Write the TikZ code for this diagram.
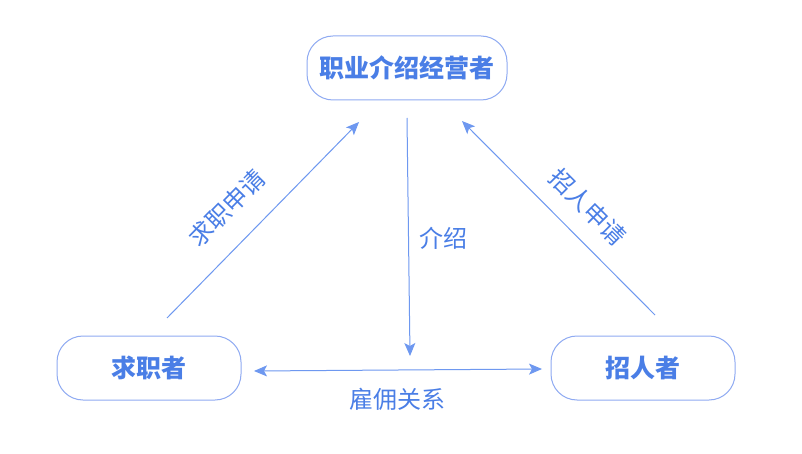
\documentclass[tikz,border=0pt]{standalone}
\usepackage{fontspec}
\setmainfont{Noto Sans CJK SC}
\usetikzlibrary{arrows.meta}
\definecolor{txtblue}{HTML}{4A7EE6}
\definecolor{boxblue}{HTML}{8FAAF2}
\definecolor{lineblue}{HTML}{6E98F0}
\tikzset{
  boxnode/.style={draw=boxblue, line width=1pt, rounded corners=26pt, minimum height=64pt, text=txtblue, font=\fontsize{25}{27}\selectfont\bfseries, inner sep=0pt},
  conn/.style={draw=lineblue, line width=1pt, -{Stealth[length=13pt,width=11pt,inset=3pt]}},
  lbl/.style={text=txtblue, font=\fontsize{24}{26}\selectfont, inner sep=0pt}
}
\begin{document}
\begin{tikzpicture}[x=1pt,y=-1pt]
\useasboundingbox (0,0) rectangle (802,454);
\fill[white] (0,0) rectangle (802,454);
\node[boxnode, minimum width=200pt] (top) at (407,68) {职业介绍经营者};
\node[boxnode, minimum width=184pt] (left) at (149,368) {求职者};
\node[boxnode, minimum width=184pt] (right) at (643,368) {招人者};
\coordinate (ls) at (167,318);
\coordinate (le) at (359,122);
\coordinate (rs) at (655,315);
\coordinate (re) at (462,121);
\coordinate (vs) at (407,118);
\coordinate (ve) at (410,356);
\coordinate (hl) at (254,371);
\coordinate (hr) at (542,369);
\draw[conn] (ls) -- (le);
\draw[conn] (rs) -- (re);
\draw[conn] (vs) -- (ve);
\draw[conn, {Stealth[length=13pt,width=11pt,inset=3pt]}-{Stealth[length=13pt,width=11pt,inset=3pt]}] (hl) -- (hr);
\node[lbl, rotate=45.5] (l1) at (227,208) {求职申请};
\node[lbl, rotate=-45] (l2) at (588,207) {招人申请};
\node[lbl] (l3) at (443,238) {介绍};
\node[lbl] (l4) at (397,399) {雇佣关系};
\end{tikzpicture}
\end{document}
